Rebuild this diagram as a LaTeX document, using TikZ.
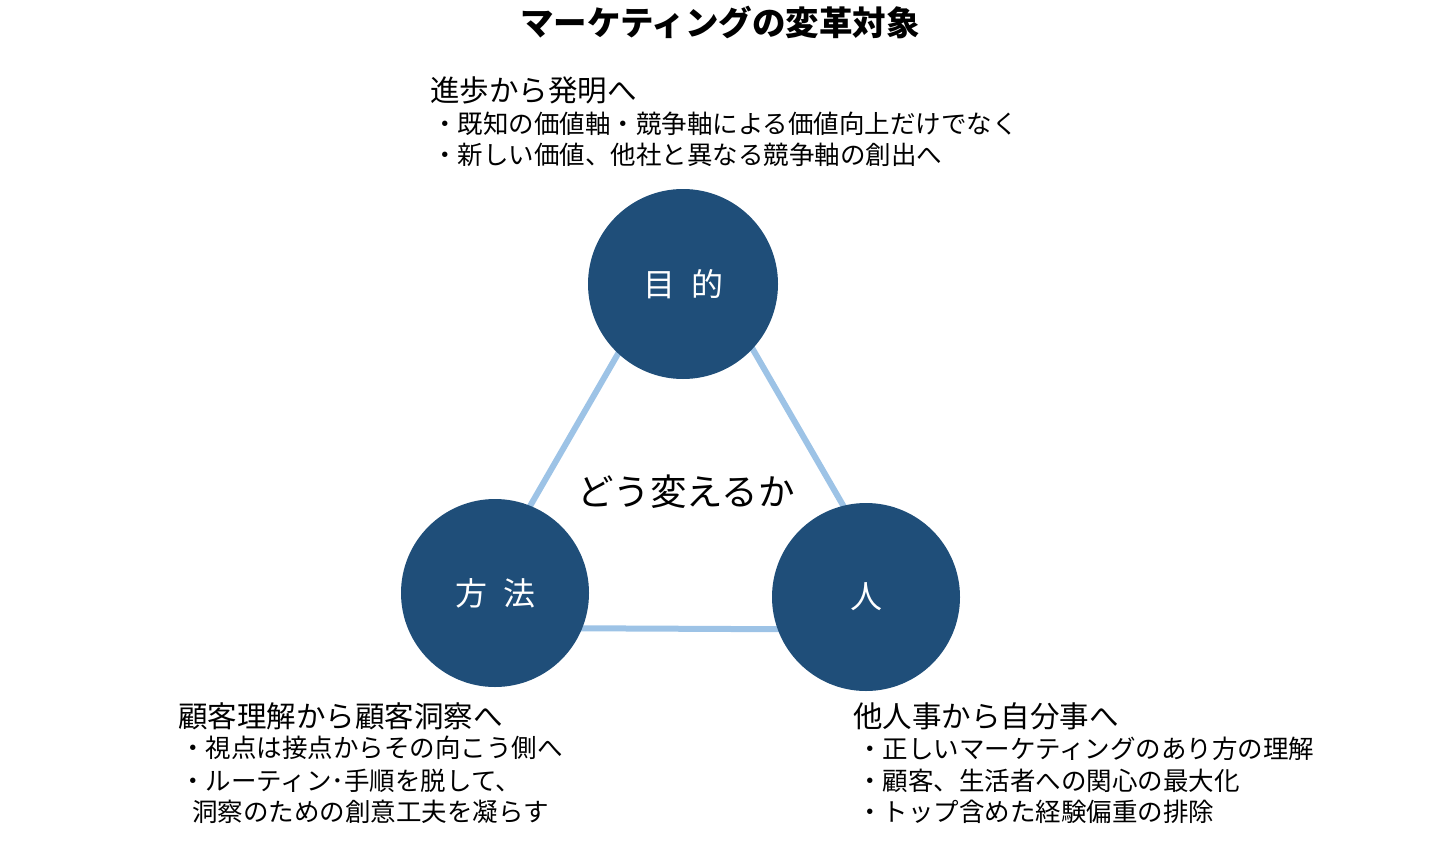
\documentclass[tikz,border=0pt]{standalone}
\usepackage{fontspec}
\setmainfont{Noto Sans CJK JP}
\usetikzlibrary{backgrounds}
\definecolor{navy}{HTML}{1F4E79}
\definecolor{paleblue}{HTML}{9DC3E6}

\begin{document}
\begin{tikzpicture}[
  x=1pt, y=-1pt,
  every node/.style={inner sep=0pt},
  ball/.style={circle, fill=navy, minimum size=190pt, text=white, font=\fontsize{32}{36}\selectfont},
  link/.style={draw=paleblue, line width=6pt, shorten <=-8pt, shorten >=-8pt},
  headline/.style={anchor=west, font=\fontsize{29.5}{34}\selectfont},
  bullet/.style={anchor=west, font=\fontsize{25.5}{30}\selectfont}
]
  \useasboundingbox (0,0) rectangle (1440,862);

  \node (title) at (720,22) [font=\bfseries\fontsize{33.5}{38}\selectfont] {マーケティングの変革対象};

  \node (goal) at (683,284) [ball] {目\enspace 的};
  \node (method) at (495,593) [ball, minimum size=188pt] {方\enspace 法};
  \node (people) at (866,597) [ball, minimum size=188pt] {人};

  \node (how) at (686,492) [font=\fontsize{36.5}{40}\selectfont] {どう変えるか};

  \begin{scope}[on background layer]
    \draw [link] (goal.227) -- (method.68);
    \draw [link] (goal.317) -- (people.104);
    \draw [link] (method.338) -- (people.200);
  \end{scope}

  % goal
  \node (goalhead) at (430,90) [headline] {進歩から発明へ};
  \node (goalone) at (432,124) [bullet] {・既知の価値軸・競争軸による価値向上だけでなく};
  \node (goaltwo) at (432,155) [bullet] {・新しい価値、他社と異なる競争軸の創出へ};

  % method
  \node (methodhead) at (178,716) [headline] {顧客理解から顧客洞察へ};
  \node (methodone) at (180,748) [bullet] {・視点は接点からその向こう側へ};
  \node (methodtwo) at (180,781) [bullet] {・ルーティン･手順を脱して、};
  \node (methodthree) at (192,812) [bullet] {洞察のための創意工夫を凝らす};

  % people
  \node (peoplehead) at (853,716) [headline] {他人事から自分事へ};
  \node (peopleone) at (857,749) [bullet] {・正しいマーケティングのあり方の理解};
  \node (peopletwo) at (857,781) [bullet] {・顧客、生活者への関心の最大化};
  \node (peoplethree) at (857,812) [bullet] {・トップ含めた経験偏重の排除};
\end{tikzpicture}
\end{document}
